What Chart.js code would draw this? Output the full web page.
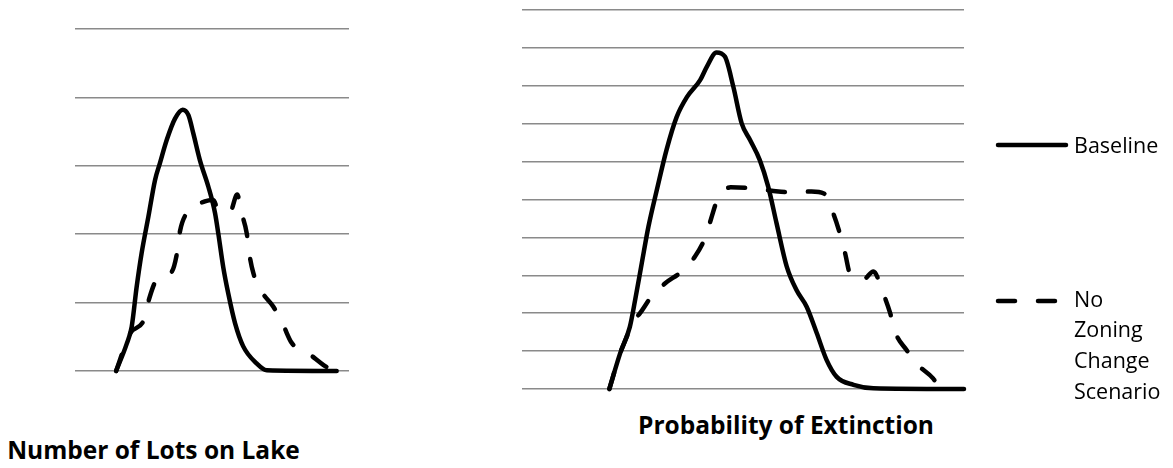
<!DOCTYPE html>
<html lang="en">
<head>
<meta charset="UTF-8">
<title>Lots on Lake / Probability of Extinction</title>
<script src="https://cdn.jsdelivr.net/npm/chart.js"></script>
<style>
    body {
        margin: 0;
        background: #fff;
        color: #000;
        font-family: 'Open Sans', 'Noto Sans', sans-serif;
    }
    #wrap {
        position: relative;
        width: 1173px;
        height: 468px;
        overflow: hidden;
    }
    canvas { position: absolute; }
    #lotsCanvas { left: 65px; top: 19px; }
    #extCanvas { left: 512px; top: 0px; }
    .title {
        position: absolute;
        width: 400px;
        text-align: center;
        font-weight: bold;
        font-size: 24.5px;
        line-height: 1;
        white-space: nowrap;
    }
    .legend-text {
        position: absolute;
        left: 1074px;
        font-size: 21.5px;
        white-space: nowrap;
    }
</style>
</head>
<body>
<div id="wrap">
    <canvas id="lotsCanvas" width="294" height="362"></canvas>
    <canvas id="extCanvas" width="462" height="399"></canvas>

    <div class="title" style="left:-46.5px; top:438.2px;">Number of Lots on Lake</div>
    <div class="title" style="left:586px; top:413.2px;">Probability of Extinction</div>

    <!-- legend keys -->
    <svg width="1173" height="468" style="position:absolute; left:0; top:0;">
        <line x1="998" y1="145" x2="1066" y2="145" stroke="#000" stroke-width="4.5" stroke-linecap="round"/>
        <line x1="998" y1="301" x2="1058" y2="301" stroke="#000" stroke-width="4.5" stroke-linecap="round" stroke-dasharray="17 23"/>
    </svg>
    <div class="legend-text" style="top:134px; line-height:1;">Baseline</div>
    <div class="legend-text" style="top:283.5px; line-height:30.8px;">No<br>Zoning<br>Change<br>Scenario</div>
</div>

<script>
    // Number of Lots on Lake (x in % of axis width, y in grid units 0-5)
    const lotsBaseX = [15, 18.9, 20.7, 22.5, 24.3, 26.8, 29.2, 31, 33.5, 36.5, 39.3, 41.4, 43.2, 45.6, 48.7, 51.1, 52.3, 54.1, 55.9, 58.4, 61.4, 66.3, 70, 95.5];
    const lotsBaseY = [0, 0.4, 0.65, 1.23, 1.72, 2.26, 2.79, 3.04, 3.38, 3.69, 3.82, 3.74, 3.47, 3.08, 2.69, 2.31, 2.01, 1.52, 1.14, 0.7, 0.36, 0.11, 0.01, 0];

    const lotsNoZoneX = [15, 20.1, 25.2, 27.1, 29.8, 35.3, 37.3, 38.3, 40.8, 47.4, 50.5, 52.3, 56.6, 59.2, 60.8, 62.7, 63.6, 65.1, 68.1, 72.4, 76, 79.1, 85.1, 90.6, 94.2];
    const lotsNoZoneY = [0, 0.55, 0.75, 1.06, 1.33, 1.45, 1.74, 2.04, 2.31, 2.48, 2.5, 2.35, 2.33, 2.58, 2.31, 2.01, 1.72, 1.43, 1.16, 0.94, 0.67, 0.41, 0.26, 0.09, 0];

    // Probability of Extinction (x in % of axis width, y in grid units 0-10)
    const extBaseX = [19.76, 22.2, 24.4, 25.6, 27.1, 28.6, 30.5, 32.7, 35, 37.3, 40.3, 41.8, 44, 45.9, 47.8, 49.7, 51.6, 53.8, 55.7, 57.6, 59.9, 62.1, 64.4, 66.7, 68.9, 71.2, 75, 79.5, 100];
    const extBaseY = [0, 0.94, 1.64, 2.35, 3.32, 4.28, 5.25, 6.31, 7.18, 7.7, 8.15, 8.5, 8.88, 8.77, 7.98, 7.01, 6.57, 6.04, 5.34, 4.37, 3.23, 2.61, 2.17, 1.47, 0.77, 0.32, 0.11, 0.02, 0];

    const extNoZoneX = [19.76, 22.2, 23.7, 24.8, 26.7, 29.3, 32.4, 36.1, 39.1, 41.4, 42.7, 44.2, 47.2, 51.6, 56.5, 60.8, 65.5, 68.3, 70.4, 71.9, 73.1, 74.2, 77.2, 79.5, 81.7, 83.3, 84.4, 87, 89.6, 93, 94.6];
    const extNoZoneY = [0, 0.94, 1.38, 1.73, 2.0, 2.44, 2.79, 3.1, 3.49, 3.98, 4.46, 4.99, 5.32, 5.3, 5.23, 5.19, 5.21, 5.16, 4.64, 4.11, 3.58, 3.05, 2.89, 3.1, 2.53, 2.0, 1.51, 1.03, 0.63, 0.28, 0];

    function toPoints(xs, ys) {
        return xs.map((x, i) => ({ x: x, y: ys[i] }));
    }

    function series(label, xs, ys, dashed) {
        return {
            label: label,
            data: toPoints(xs, ys),
            borderColor: '#000',
            borderWidth: 4.5,
            borderDash: dashed ? [17, 23] : [],
            borderCapStyle: 'round',
            borderJoinStyle: 'round',
            cubicInterpolationMode: 'monotone',
            pointRadius: 0,
            fill: false,
            clip: false
        };
    }

    function makeChart(id, datasets, yMax) {
        return new Chart(document.getElementById(id), {
            type: 'line',
            data: { datasets: datasets },
            options: {
                responsive: false,
                animation: false,
                layout: { padding: 10 },
                plugins: {
                    legend: { display: false },
                    tooltip: { enabled: false }
                },
                scales: {
                    x: { type: 'linear', min: 0, max: 100, display: false },
                    y: {
                        min: 0,
                        max: yMax,
                        ticks: { display: false, stepSize: 1 },
                        border: { display: false },
                        grid: { color: '#8a8a8a', lineWidth: 1.5, drawTicks: false }
                    }
                }
            }
        });
    }

    makeChart('lotsCanvas', [
        series('Baseline', lotsBaseX, lotsBaseY, false),
        series('No Zoning Change Scenario', lotsNoZoneX, lotsNoZoneY, true)
    ], 5);

    makeChart('extCanvas', [
        series('Baseline', extBaseX, extBaseY, false),
        series('No Zoning Change Scenario', extNoZoneX, extNoZoneY, true)
    ], 10);
</script>
</body>
</html>
